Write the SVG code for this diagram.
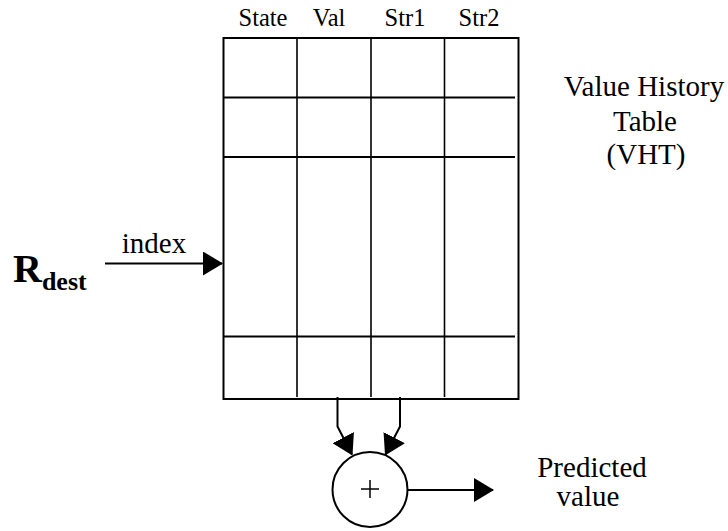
<svg xmlns="http://www.w3.org/2000/svg" width="728" height="531" viewBox="0 0 728 531" font-family="'Liberation Serif', 'Times New Roman', serif">
<style>
  text { font-family: 'Liberation Serif', 'Times New Roman', serif; fill: #000; }
  .hdr { font-size: 24.5px; text-anchor: middle; }
  .lbl { font-size: 29px; text-anchor: middle; }
  .ln { stroke: #000; stroke-width: 2; fill: none; }
  .ln1 { stroke: #000; stroke-width: 1.6; fill: none; }
</style>
<defs>
  <marker id="ah" markerUnits="userSpaceOnUse" markerWidth="20" markerHeight="24" refX="19" refY="12" orient="auto" viewBox="0 0 20 24">
    <path d="M0,0 L20,12 L0,24 Z" fill="#000"/>
  </marker>
</defs>
<rect width="728" height="531" fill="#fff"/>

<g id="vht">
  <rect x="223.5" y="38" width="295" height="361" class="ln"/>
  <line x1="297" y1="38" x2="297" y2="397" class="ln1"/>
  <line x1="371" y1="38" x2="371" y2="397" class="ln1"/>
  <line x1="444.5" y1="38" x2="444.5" y2="397" class="ln1"/>
  <line x1="223.5" y1="97.5" x2="515" y2="97.5" class="ln"/>
  <line x1="223.5" y1="157" x2="515" y2="157" class="ln"/>
  <line x1="223.5" y1="336.5" x2="515" y2="336.5" class="ln"/>
  <text class="hdr" x="263" y="26">State</text>
  <text class="hdr" x="329" y="26">Val</text>
  <text class="hdr" x="405" y="26">Str1</text>
  <text class="hdr" x="479" y="26">Str2</text>
</g>

<g id="vht-label">
  <text class="lbl" x="644" y="96">Value History</text>
  <text class="lbl" x="645" y="131">Table</text>
  <text class="lbl" x="646" y="164">(VHT)</text>
</g>

<g id="rdest">
  <text x="13" y="282" font-size="40" font-weight="bold">R<tspan font-size="26" dy="8">dest</tspan></text>
</g>

<g id="adder">
  <circle cx="370" cy="489.5" r="37.5" class="ln"/>
  <line x1="361" y1="489" x2="379" y2="489" stroke="#000" stroke-width="1.5"/>
  <line x1="370" y1="480" x2="370" y2="498" stroke="#000" stroke-width="1.5"/>
</g>

<g id="predicted">
  <text class="lbl" x="592" y="477">Predicted</text>
  <text class="lbl" x="588" y="506">value</text>
</g>

<g id="connectors">
  <line x1="105" y1="263.5" x2="222" y2="263.5" class="ln" marker-end="url(#ah)"/>
  <text x="154" y="253" font-size="29" text-anchor="middle">index</text>
  <polyline points="337.5,397 337.5,426.5 352,454.5" class="ln" marker-end="url(#ah)"/>
  <polyline points="400,397 400,426.5 385.5,454.5" class="ln" marker-end="url(#ah)"/>
  <line x1="407.5" y1="490" x2="493" y2="490" class="ln" marker-end="url(#ah)"/>
</g>
</svg>
